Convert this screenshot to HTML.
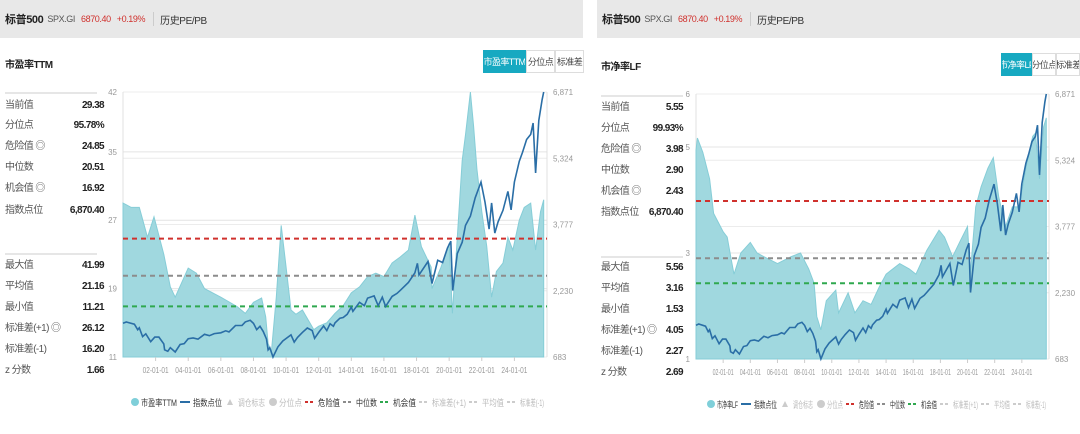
<!DOCTYPE html>
<html><head><meta charset="utf-8">
<style>
*{margin:0;padding:0;box-sizing:border-box}
body{width:1080px;height:434px;background:#fff;position:relative;overflow:hidden;font-family:"Liberation Sans","Noto Sans CJK SC",sans-serif;color:#333}
.hdr{position:absolute;top:0;height:38px;background:#e8e8e8;font-size:10px;display:flex;align-items:center;padding-left:5px;white-space:nowrap;letter-spacing:-0.4px}
.hdr b{font-size:11px;color:#222;margin-right:4px}
.hdr .code{color:#555;margin-right:6px;font-size:9px}
.hdr .red{color:#d0312d;margin-right:6px;font-size:9px}
.hdr .sep{width:1px;height:14px;background:#ccc;margin:0 6px 0 2px}
.ttl{position:absolute;font-size:10px;font-weight:bold;color:#222;letter-spacing:-0.5px;white-space:nowrap}
.btns{position:absolute;display:flex;height:23px;font-size:9px;letter-spacing:-0.6px;white-space:nowrap}
.btns div{border:1px solid #ddd;display:flex;align-items:center;justify-content:center;color:#444;background:#fff;overflow:hidden}
.btns div.on{background:#17a9c1;color:#fff;border-color:#17a9c1}
.stat{position:absolute;font-size:10px;line-height:14px;height:14px;display:flex;align-items:center;justify-content:space-between;color:#555;white-space:nowrap;letter-spacing:-0.6px}
.stat span,.stat b{line-height:14px;display:block}
.stat b{color:#222}
.hr{position:absolute;height:2px;background:#e6e6e6}
svg{position:absolute;left:0;top:0}
</style></head><body>
<div class="hdr" style="left:0;width:583px"><b>标普500</b><span class="code">SPX.GI</span><span class="red">6870.40</span><span class="red">+0.19%</span><span class="sep"></span><span>历史PE/PB</span></div>
<div class="hdr" style="left:597px;width:483px"><b>标普500</b><span class="code">SPX.GI</span><span class="red">6870.40</span><span class="red">+0.19%</span><span class="sep"></span><span>历史PE/PB</span></div>
<div class="ttl" style="left:5px;top:56px">市盈率TTM</div>
<div class="ttl" style="left:601px;top:58px">市净率LF</div>
<div class="btns" style="left:483px;top:50px">
<div class="on" style="width:43px">市盈率TTM</div><div style="width:29px">分位点</div><div style="width:29px">标准差</div></div>
<div class="btns" style="left:1001px;top:53px">
<div class="on" style="width:31px">市净率LF</div><div style="width:24px">分位点</div><div style="width:24px">标准差</div></div>
<div id="stats"></div>
<svg id="svg" width="1080" height="434" xmlns="http://www.w3.org/2000/svg" font-family="Liberation Sans, Noto Sans CJK SC, sans-serif"></svg>
<script>
// ---- data ----
const peYears=[2000.0,2000.5,2001.0,2001.5,2001.9,2002.5,2002.9,2003.2,2004.0,2004.5,2005.0,2006.0,2007.0,2007.5,2008.0,2008.5,2008.75,2008.9,2009.1,2009.4,2009.7,2010.0,2010.3,2010.6,2011.0,2011.7,2012.0,2012.5,2013.0,2013.5,2014.0,2014.5,2015.0,2015.5,2016.0,2016.5,2017.0,2017.5,2017.9,2018.3,2018.9,2018.95,2019.5,2020.0,2020.2,2020.5,2020.8,2021.0,2021.3,2021.5,2021.7,2022.0,2022.3,2022.6,2022.9,2023.3,2023.6,2023.9,2024.3,2024.6,2025.0,2025.3,2025.6,2025.8];
const peValues=[29,28.5,28.5,25,27.4,23,19.2,18,21.4,20.8,19,18,16.9,16.1,17.4,17.9,15.7,12.6,11.6,18,26.4,21.5,16.5,16,16.5,14.2,14.6,15,16.1,17,18.5,19.2,20.4,20.8,20.4,22,22.7,23.5,27.6,23.9,21.5,19,21.5,24.3,16.1,25,34,37,42,38,33,28,24,18,21,22,25,23.5,27,28.5,29,23.5,28,29.4];
const pbYears=[2000.0,2000.1,2000.5,2001.0,2001.3,2002.0,2002.3,2002.6,2002.8,2003.3,2004.0,2004.5,2005.0,2006.0,2007.0,2007.7,2008.3,2008.7,2008.9,2009.2,2009.6,2010.3,2010.5,2011.2,2011.7,2012.3,2012.9,2013.5,2014.0,2015.0,2015.7,2016.2,2017.0,2017.9,2018.3,2018.9,2019.5,2020.0,2020.2,2020.6,2021.0,2021.5,2021.9,2022.3,2022.8,2023.3,2023.8,2024.3,2024.8,2025.0,2025.3,2025.6,2025.8];
const pbValues=[4.94,5.17,4.9,4.4,3.75,3.4,3.3,2.87,2.6,3.0,3.2,3.0,2.93,2.8,2.93,3.0,2.7,2.43,1.8,1.55,2.1,2.3,1.87,2.25,1.87,2.1,2.03,2.36,2.6,2.8,2.7,2.6,3.05,3.43,3.3,2.93,3.25,3.5,2.6,3.87,4.25,4.6,4.8,4.05,3.5,3.87,3.87,4.6,5.2,5.26,4.4,5.38,5.55];
const idxYears=[2000.0,2000.2,2000.7,2000.9,2001.0,2001.2,2001.4,2001.7,2001.95,2002.2,2002.5,2002.55,2002.75,2002.9,2003.2,2003.5,2003.75,2004.0,2004.3,2004.6,2005.0,2005.3,2005.6,2006.0,2006.3,2006.5,2006.9,2007.3,2007.5,2007.8,2008.0,2008.2,2008.4,2008.6,2008.8,2008.9,2009.0,2009.2,2009.5,2009.8,2010.0,2010.3,2010.5,2010.7,2011.0,2011.3,2011.6,2011.75,2012.0,2012.3,2012.5,2012.7,2012.9,2013.0,2013.3,2013.5,2013.75,2014.0,2014.1,2014.5,2014.8,2015.0,2015.4,2015.65,2015.9,2016.1,2016.5,2016.8,2017.0,2017.5,2017.9,2018.05,2018.15,2018.7,2018.95,2019.3,2019.6,2019.9,2020.1,2020.22,2020.5,2020.8,2021.0,2021.3,2021.6,2021.95,2022.2,2022.45,2022.6,2022.8,2023.0,2023.3,2023.6,2023.8,2024.0,2024.3,2024.5,2024.75,2025.0,2025.15,2025.3,2025.5,2025.7,2025.8];
const idxValues=[1469,1500,1450,1320,1366,1160,1224,1040,1148,1147,989,850,815,900,800,975,996,1111,1126,1100,1212,1180,1230,1248,1294,1270,1418,1420,1503,1540,1468,1322,1400,1280,1100,850,900,683,919,1057,1115,1200,1030,1141,1257,1360,1300,1120,1257,1408,1300,1460,1400,1480,1590,1606,1681,1848,1750,1960,1880,2058,2110,1880,2080,1864,2098,2168,2238,2423,2650,2872,2600,2914,2400,2942,2890,3231,3386,2237,3100,3363,3756,3973,4400,4766,4300,3670,4280,3577,3840,4109,4550,4117,4770,5254,5460,5762,5882,6144,4982,6205,6688,6870];
const xTickYears=[2002,2004,2006,2008,2010,2012,2014,2016,2018,2020,2022,2024];
const xTickLabels=["02-01-01","04-01-01","06-01-01","08-01-01","10-01-01","12-01-01","14-01-01","16-01-01","18-01-01","20-01-01","22-01-01","24-01-01"];
const peTicks=[11,19,27,35,42];
const pbTicks=[1,3,5,6];
const idxTicks=[683,2230,3777,5324,6871];
const idxTickLabels=["683","2,230","3,777","5,324","6,871"];
const peLevels=[24.85,20.51,16.92];
const pbLevels=[3.98,2.90,2.43];
const peStatLabels=["当前值","分位点","危险值 ◎","中位数","机会值 ◎","指数点位","最大值","平均值","最小值","标准差(+1) ◎","标准差(-1)","z 分数"];
const peStatValues=["29.38","95.78%","24.85","20.51","16.92","6,870.40","41.99","21.16","11.21","26.12","16.20","1.66"];
const pbStatValues=["5.55","99.93%","3.98","2.90","2.43","6,870.40","5.56","3.16","1.53","4.05","2.27","2.69"];

const NS="http://www.w3.org/2000/svg";
const svg=document.getElementById('svg');
function mk(tag,attrs,parent){const e=document.createElementNS(NS,tag);for(const k in attrs)e.setAttribute(k,attrs[k]);(parent||svg).appendChild(e);return e;}

function drawChart(c){
  const g=mk('g',{});
  
  
  const X=y=>c.x0+(y-2000)/(c.yEnd-2000)*(c.x1-c.x0);
  const YL=v=>c.y1-(v-c.vMin)/(c.vMax-c.vMin)*(c.y1-c.y0);
  const YR=v=>c.y1-(v-683)/(6871-683)*(c.y1-c.y0);
  c.lTicks.forEach(t=>{
    const l=mk('line',{x1:c.x0,x2:c.x1,y1:YL(t),y2:YL(t),stroke:'#e4e4e4','stroke-width':1},g);
    
    const tx=mk('text',{x:c.x0-6,y:YL(t)+3,'font-size':8,fill:'#999','text-anchor':'end'},g);tx.textContent=t;
    
  });
  idxTicks.forEach((t,i)=>{
    mk('line',{x1:c.x0,x2:c.x1,y1:YR(t),y2:YR(t),stroke:'#ececec','stroke-width':1},g);
    const tx=mk('text',{x:c.x1+6,y:YR(t)+3,'font-size':8,fill:'#999'},g);tx.textContent=idxTickLabels[i];
    
  });
  mk('line',{x1:c.x0,x2:c.x0,y1:c.y0,y2:c.y1,stroke:'#e0e0e0'},g);
  mk('line',{x1:c.x1,x2:c.x1,y1:c.y0,y2:c.y1,stroke:'#e0e0e0'},g);
  let d='M'+X(c.years[0])+','+c.y1;
  c.vals.forEach((v,i)=>{d+=' L'+X(c.years[i]).toFixed(1)+','+YL(v).toFixed(1);});
  d+=' L'+X(c.years[c.years.length-1]).toFixed(1)+','+c.y1+' Z';
  const a=mk('path',{d:d,fill:'#a0d8df',stroke:'#86cdd7','stroke-width':1},g);
  
  const cols=['#d0312d','#8c8c8c','#2fa84f'];const nm=['danger-line','median-line','opportunity-line'];
  c.levels.forEach((v,i)=>{
    const l=mk('line',{x1:c.x0,x2:c.x1,y1:YL(v),y2:YL(v),stroke:cols[i],'stroke-width':2,'stroke-dasharray':'5,4'},g);
    
  });
  let p='';idxValues.forEach((v,i)=>{p+=(i?' L':'M')+X(idxYears[i]).toFixed(1)+','+YR(v).toFixed(1);});
  const il=mk('path',{d:p,fill:'none',stroke:'#2a6ea6','stroke-width':1.6},g);
  
  xTickYears.forEach((yr,i)=>{
    mk('line',{x1:X(yr),x2:X(yr),y1:c.y1,y2:c.y1+4,stroke:'#ccc'},g);
    const tx=mk('text',{x:X(yr)-c.tickW/2,y:c.y1+16,'font-size':8,fill:'#999',textLength:c.tickW,lengthAdjust:'spacingAndGlyphs'},g);tx.textContent=xTickLabels[i];
    
  });
  const L=c.legend;const ly=c.legY;
  const items=[['circle','#7fcfd9',c.areaLabel,'#333'],['line','#2a6ea6','指数点位','#333'],['tri','#ccc','调仓标志','#bbb'],['circle','#ccc','分位点','#bbb'],['dash','#d0312d','危险值','#333'],['dash','#8c8c8c','中位数','#333'],['dash','#2fa84f','机会值','#333'],['dash','#ccc','标准差(+1)','#bbb'],['dash','#ccc','平均值','#bbb'],['dash','#ccc','标准差(-1)','#bbb']];
  items.forEach((it,i)=>{
    const lg=mk('g',{},g);
    
    const x=L[i];
    if(it[0]=='circle')mk('circle',{cx:x+3,cy:ly,r:4,fill:it[1]},lg);
    else if(it[0]=='line')mk('line',{x1:x-2,x2:x+8,y1:ly,y2:ly,stroke:it[1],'stroke-width':2},lg);
    else if(it[0]=='tri')mk('path',{d:`M${x},${ly+3} L${x+3},${ly-3} L${x+6},${ly+3}Z`,fill:it[1]},lg);
    else mk('line',{x1:x-2,x2:x+8,y1:ly,y2:ly,stroke:it[1],'stroke-width':2,'stroke-dasharray':'3,2'},lg);
    const tx0=x+(it[0]=='circle'?9:11);
    const next=i<L.length-1?L[i+1]:c.x1+2;
    const w=Math.min(next-tx0-5, it[2].length*9);
    const t=mk('text',{x:tx0,y:ly+4,'font-size':9,fill:it[3],textLength:w,lengthAdjust:'spacingAndGlyphs'},lg);t.textContent=it[2];
  });
}
drawChart({name:'pe',x0:123,x1:547,y0:92,y1:357,yEnd:2026,vMin:11,vMax:42,lTicks:peTicks,years:peYears,vals:peValues,levels:peLevels,areaLabel:'市盈率TTM',legY:402,tickW:26,legend:[132,182,227,270,307,345,382,421,471,509]});
drawChart({name:'pb',x0:696,x1:1049,y0:94,y1:359,yEnd:2026,vMin:1,vMax:6,lTicks:pbTicks,years:pbYears,vals:pbValues,levels:pbLevels,areaLabel:'市净率LF',legY:404,tickW:21,legend:[708,743,782,818,848,879,910,942,983,1015]});

const st=document.getElementById('stats');
function stats(x,w,ys,vals,pfx){
  peStatLabels.forEach((lab,i)=>{
    const d=document.createElement('div');d.className='stat';
    
    
    d.style.left=x+'px';d.style.width=w+'px';d.style.top=ys[i]+'px';
    d.innerHTML='<span>'+lab+'</span><b>'+vals[i]+'</b>';st.appendChild(d);
  });
}
stats(5,99,[99,119,140,161,182,204,259,280,301,322,343,364],peStatValues,'pe');
stats(601,82,[101,122,143,164,185,206,261,282,303,324,345,366],pbStatValues,'pb');
[[5,92,92],[5,253,92],[601,95,82],[601,256,82]].forEach(r=>{const d=document.createElement('div');d.className='hr';d.style.left=r[0]+'px';d.style.top=r[1]+'px';d.style.width=r[2]+'px';


st.appendChild(d);});
</script>
</body></html>
